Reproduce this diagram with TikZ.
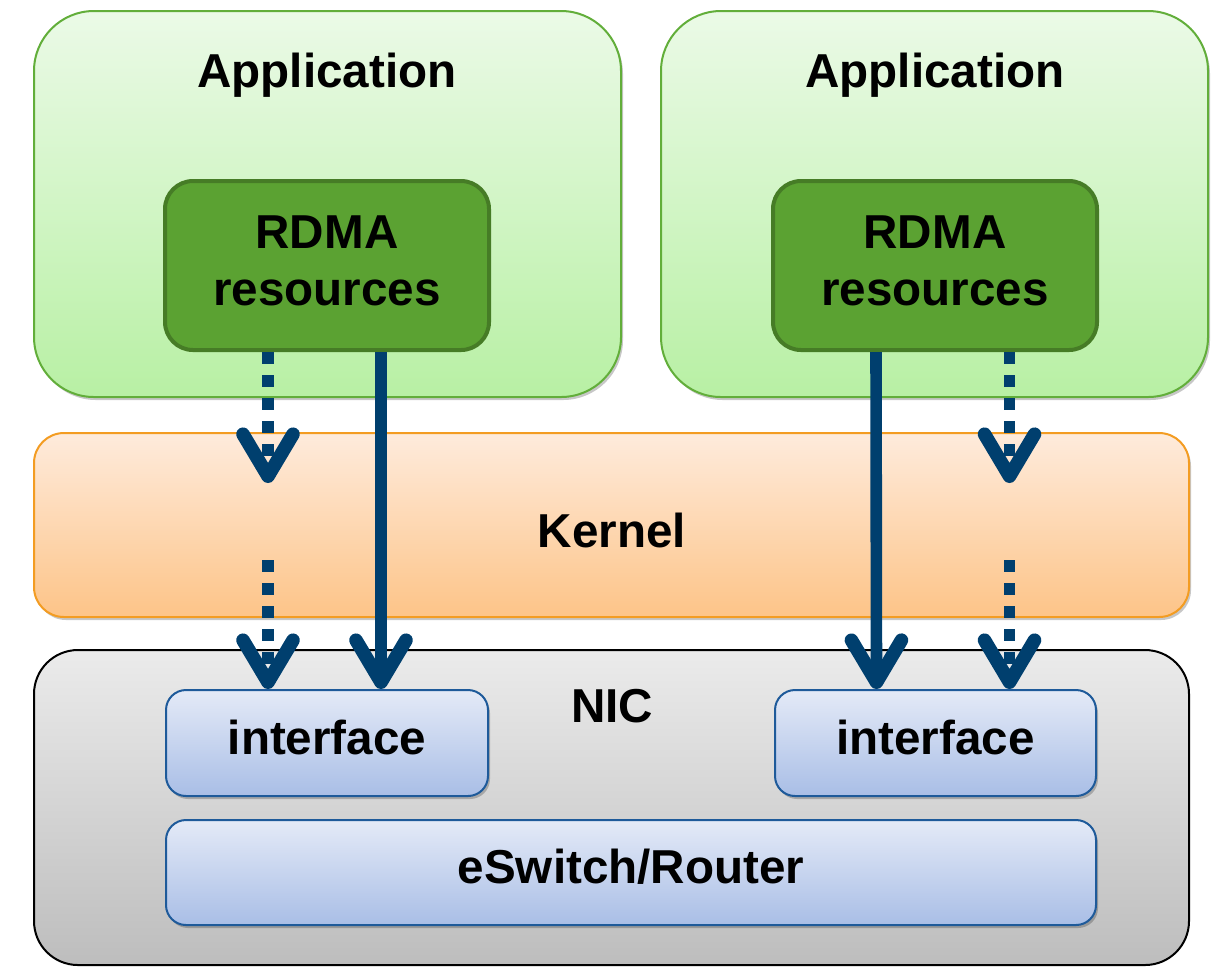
\documentclass[tikz,border=0pt]{standalone}
\usepackage{fontspec}
\setmainfont{Liberation Sans}
\usetikzlibrary{arrows.meta,shadows}

\definecolor{appTop}{HTML}{EBFAE7}
\definecolor{appBot}{HTML}{B8F0A4}
\definecolor{appLine}{HTML}{62AE3A}
\definecolor{resFill}{HTML}{5BA232}
\definecolor{resLine}{HTML}{467C26}
\definecolor{kerTop}{HTML}{FEEBDC}
\definecolor{kerBot}{HTML}{FDC488}
\definecolor{kerLine}{HTML}{F39C22}
\definecolor{nicTop}{HTML}{EBEBEB}
\definecolor{nicBot}{HTML}{BDBDBD}
\definecolor{ifTop}{HTML}{E4EAF7}
\definecolor{ifBot}{HTML}{A9BEE6}
\definecolor{ifLine}{HTML}{1E5A9A}
\definecolor{flowBlue}{HTML}{003F6E}

\tikzset{
  txt/.style={font=\fontsize{23.8}{28.5}\selectfont\bfseries, text=black, inner sep=0pt, align=center},
  softshadow/.style={drop shadow={shadow xshift=1pt, shadow yshift=-1.5pt, opacity=0.22, fill=black}},
  appbox/.style={draw=appLine, line width=1pt, rounded corners=30pt,
    top color=appTop, bottom color=appBot, softshadow},
  resbox/.style={draw=resLine, line width=2pt, rounded corners=14pt, fill=resFill},
  kernelbox/.style={draw=kerLine, line width=1pt, rounded corners=15pt,
    top color=kerTop, bottom color=kerBot, softshadow},
  nicbox/.style={draw=black, line width=1pt, rounded corners=22pt,
    top color=nicTop, bottom color=nicBot},
  ifbox/.style={draw=ifLine, line width=1pt, rounded corners=10pt,
    top color=ifTop, bottom color=ifBot, softshadow},
  flow/.style={draw=flowBlue, line width=5.8pt,
    -{Straight Barb[length=21pt, width=25pt, line width=6.8pt, round]}},
  dotflow/.style={flow, dash pattern=on 6pt off 5.5pt},
}

\begin{document}
\begin{tikzpicture}[x=0.5pt, y=-0.5pt]
  \useasboundingbox (0,0) rectangle (1218,966);

  % application layers
  \node[appbox, minimum width=293.5pt, minimum height=193pt] (app1) at (327.5,204) {};
  \node[appbox, minimum width=273.5pt, minimum height=193pt] (app2) at (934.5,204) {};
  \node[txt, anchor=base] (app1t) at (327,87) {Application};
  \node[txt, anchor=base] (app2t) at (935,87) {Application};

  \node[resbox, minimum width=162pt, minimum height=84.5pt] (res1) at (327,265.5) {};
  \node[resbox, minimum width=162pt, minimum height=84.5pt] (res2) at (935,265.5) {};
  \node[txt] (res1t) at (327,260.5) {RDMA\\resources};
  \node[txt] (res2t) at (935,260.5) {RDMA\\resources};

  % kernel layer
  \node[kernelbox, minimum width=577.5pt, minimum height=92pt] (kernel) at (611.5,525) {};
  \node[txt] (kernelt) at (612,530) {Kernel};

  % NIC with its interfaces and switch
  \node[nicbox, minimum width=577.5pt, minimum height=157.5pt] (nic) at (611.5,807.5) {};
  \node[txt, anchor=base] (nict) at (612,722) {NIC};
  \node[ifbox, minimum width=161pt, minimum height=53pt] (if1) at (327,743) {};
  \node[ifbox, minimum width=160.5pt, minimum height=53pt] (if2) at (935.5,743) {};
  \node[ifbox, minimum width=465pt, minimum height=52.5pt] (esw) at (631,872.5) {};
  \node[txt] (if1t) at (327,737) {interface};
  \node[txt] (if2t) at (935.5,737) {interface};
  \node[txt] (eswt) at (631,867) {eSwitch/Router};

  % kernel bypass paths
  \draw[flow] ([xshift=27pt]res1.south) -- ([xshift=27pt]if1.north);
  \draw[flow] ([xshift=-29.5pt]res2.south) -- ([xshift=-29.5pt]if2.north);

  % paths through the kernel
  \coordinate (k1in)  at (268,483);
  \coordinate (k1out) at (268,560);
  \coordinate (k2in)  at (1009.5,483);
  \coordinate (k2out) at (1009.5,560);
  \draw[dotflow] (res1.south -| k1in) -- (k1in);
  \draw[dotflow] (k1out) -- (if1.north -| k1out);
  \draw[dotflow] (res2.south -| k2in) -- (k2in);
  \draw[dotflow] (k2out) -- (if2.north -| k2out);
\end{tikzpicture}
\end{document}
